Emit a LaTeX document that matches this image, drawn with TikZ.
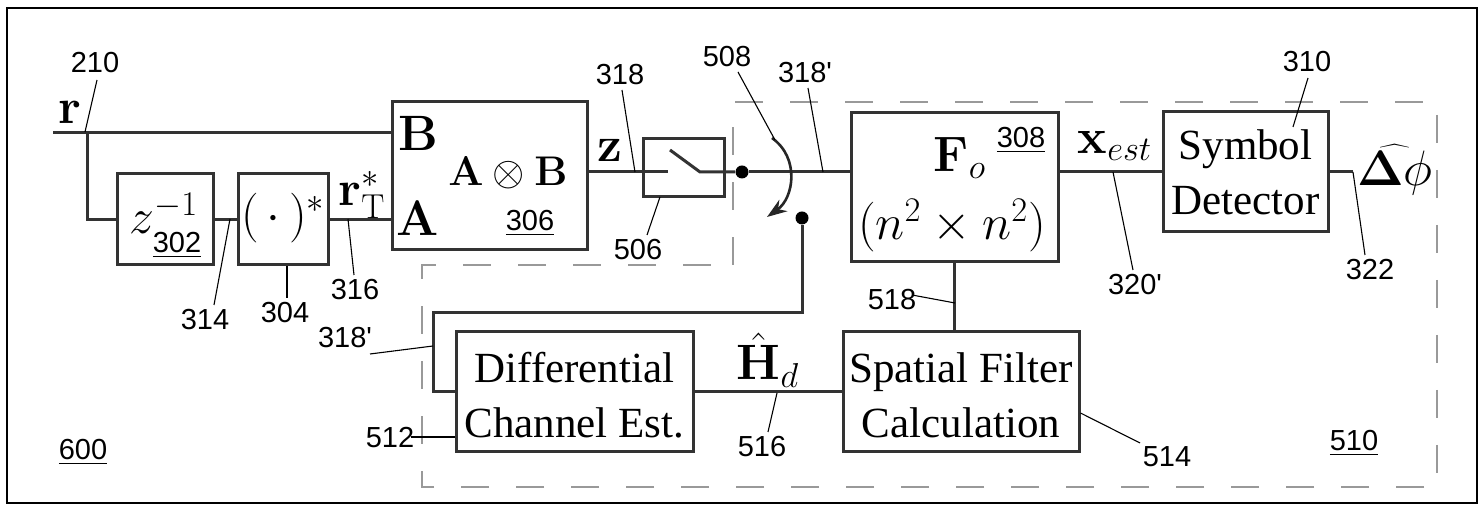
\documentclass[tikz,border=0pt]{standalone}
\usepackage[no-math]{fontspec}
\setmainfont{Liberation Serif}
\newfontfamily\lab{Liberation Sans}
\usetikzlibrary{arrows.meta}
\begin{document}
\begin{tikzpicture}[x=0.5pt,y=-0.5pt,
  blk/.style={draw=black!80, line width=1.5pt, inner sep=0pt, fill=white},
  wire/.style={draw=black!80, line width=1.5pt},
  lead/.style={draw=black, line width=0.55pt},
  num/.style={font=\lab\fontsize{14.5}{16}\selectfont, inner sep=0pt},
  mth/.style={font=\fontsize{24}{28}\selectfont, inner sep=0pt},
  txt/.style={font=\fontsize{21.5}{27.5}\selectfont, align=center, inner sep=0pt},
  dsh/.style={draw=black!40, line width=1.4pt, dash pattern=on 14pt off 13.5pt},
  dotn/.style={circle, fill=black, inner sep=0pt, minimum size=6.5pt}
]
\useasboundingbox (0,0) rectangle (1480,506);
\draw[black, line width=0.7pt] (7,8) rectangle (1477,503);
% dashed region 510
\draw[dsh] (733,265) -- (733,102) -- (1437,102) -- (1437,487) -- (422,487) -- (422,265) -- cycle;

% blocks
\node[blk, minimum width=48pt, minimum height=45.5pt] (d302) at (165,219.5) {};
\node[blk, minimum width=45pt, minimum height=45.5pt] (c304) at (283,219.5) {};
\node[blk, minimum width=97.5pt, minimum height=74pt] (k306) at (489.5,176) {};
\node[blk, minimum width=40.5pt, minimum height=29pt] (sw) at (683.5,168) {};
\node[blk, minimum width=103.5pt, minimum height=74.5pt] (f308) at (954.5,187.5) {};
\node[blk, minimum width=82.5pt, minimum height=60pt] (s310) at (1245.5,172) {};
\node[blk, minimum width=118.5pt, minimum height=60pt] (d512) at (574.5,392) {};
\node[blk, minimum width=118pt, minimum height=60pt] (s514) at (961,392) {};

% block contents
\node[mth] (zinv) at (164,213) {$z^{-1}$};
\node[num] (n302) at (177,245) {\underline{302}};
\node[mth] (conj) at (283,218) {$(\,\cdot\,)^{*}$};
\node[mth] (kB) at (418,133) {$\mathbf{B}$};
\node[mth] (kA) at (418,218) {$\mathbf{A}$};
\node[mth, font=\fontsize{22}{26}\selectfont] (kAB) at (508,173) {$\mathbf{A}\otimes\mathbf{B}$};
\node[num] (n306) at (530,223) {\underline{306}};
\node[mth] (fo) at (960,158) {$\mathbf{F}_{o}$};
\node[mth] (nn) at (952,226) {$(n^{2}\times n^{2})$};
\node[num] (n308) at (1021,140) {\underline{308}};
\node[txt] (symt) at (1245.5,172) {Symbol\\Detector};
\node[txt] (dcet) at (574.5,395) {Differential\\Channel Est.};
\node[txt] (sfct) at (961,395) {Spatial Filter\\Calculation};

% signal labels
\node[mth] (rl) at (70,112) {$\mathbf{r}$};
\node[mth] (rtl) at (362,195) {$\mathbf{r}_{\mathrm{T}}^{*}$};
\node[mth] (zl) at (610,150) {$\mathbf{z}$};
\node[mth] (xl) at (1115,146) {$\mathbf{x}_{est}$};
\node[mth] (hl) at (768,360) {$\hat{\mathbf{H}}_{d}$};
\node[mth] (pl) at (1395,170) {$\widehat{\mathbf{\Delta}\phi}$};

% dots and coordinates
\coordinate (lvl) at (0,172);
\coordinate (rin) at (53,133);
\coordinate (br) at (87,133);
\node[dotn] (dot1) at (742,172) {};
\node[dotn] (dot2) at (802,218) {};
\coordinate (swa) at (668,172);
\coordinate (swb) at (670,150);
\coordinate (swc) at (700,172);
\coordinate (fb) at (433,313);
\coordinate (o322) at (1353,172);

% wires
\draw[wire] (rin) -- (k306.west |- rin);
\draw[wire] (br) |- (d302.west);
\draw[wire] (d302.east) -- (c304.west);
\draw[wire] (c304.east) -- (k306.west |- c304.east);
\draw[wire] (k306.east |- lvl) -- (sw.west |- lvl) -- (swa);
\draw[wire] (swb) -- (swc) -- (dot1);
\draw[wire] (dot1) -- (f308.west |- lvl);
\draw[wire] (f308.east |- lvl) -- (s310.west);
\draw[wire] (s310.east) -- (o322);
\draw[wire] (f308.south) -- (f308.south |- s514.north);
\draw[wire] (d512.east) -- (s514.west);
\draw[wire] (dot2) |- (fb) |- (d512.west);
\draw[line width=1.3pt, black!85, -{Stealth[length=10pt,width=7pt]}] (772,138) .. controls (800,158) and (794,198) .. (767,217);

% reference numerals and leaders
\node[num] (n210) at (95,63) {210};
\draw[lead] (97,80) -- (85,132);
\node[num] (n314) at (205,320) {314};
\draw[lead] (214,305) -- (230,219);
\node[num] (n304) at (285,313) {304};
\draw[lead] (287,298) -- (c304.south -| 287,0);
\node[num] (n316) at (355,290) {316};
\draw[lead] (354,275) -- (348,219);
\node[num] (n318) at (620,75) {318};
\draw[lead] (622,90) -- (635,172);
\node[num] (n506) at (638,250) {506};
\draw[lead] (647,235) -- (660,197);
\node[num] (n508) at (727,57) {508};
\draw[lead] (738,72) -- (775,140);
\node[num] (n318b) at (805,73) {318'};
\draw[lead] (808,88) -- (823,172);
\node[num] (n310) at (1307,62) {310};
\draw[lead] (1308,78) -- (1293,127);
\node[num] (n320) at (1135,285) {320'};
\draw[lead] (1133,270) -- (1113,172);
\node[num] (n322) at (1370,270) {322};
\draw[lead] (1365,255) -- (o322);
\node[num] (n518) at (892,300) {518};
\draw[lead] (912,295) -- (955,303);
\node[num] (n514) at (1167,457) {514};
\draw[lead] (s514.east |- 0,413) -- (1140,443);
\node[num] (n510) at (1354,443) {\underline{510}};
\node[num] (n600) at (83,452) {\underline{600}};
\node[num] (n516) at (762,447) {516};
\draw[lead] (768,432) -- (777,393);
\node[num] (n512) at (390,438) {512};
\draw[lead] (411,437) -- (d512.west |- 0,437);
\node[num] (n318c) at (345,338) {318'};
\draw[lead] (370,354) -- (433,346);
\end{tikzpicture}
\end{document}
